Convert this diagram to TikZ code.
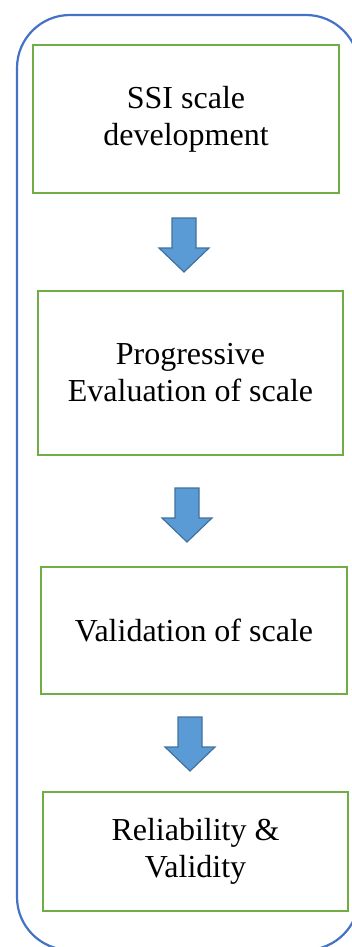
\documentclass[tikz,border=0pt]{standalone}
\usepackage{fontspec}
\setmainfont{Liberation Serif}
\newfontfamily\stagefont{Liberation Serif}
\definecolor{frameblue}{HTML}{4472C4}
\definecolor{boxgreen}{HTML}{70AD47}
\definecolor{arrowfill}{HTML}{5B9BD5}
\definecolor{arrowline}{HTML}{41719C}
\begin{document}
\begin{tikzpicture}[x=1pt,y=-1pt,
  stagebox/.style={draw=boxgreen, line width=2.5pt, fill=white, align=center,
    font=\stagefont\fontsize{32}{37}\selectfont, inner sep=0pt},
  blockarrow/.pic={
    \draw[arrowline, fill=arrowfill, line width=1.2pt, line join=miter]
      (-12,0) -- (12,0) -- (12,30) -- (25,30) -- (0,54) -- (-25,30) -- (-12,30) -- cycle;
  }]
  \useasboundingbox (0,0) rectangle (352,947);
  \begin{scope}
    \clip (0,0) rectangle (352,947);
    % outer rounded frame (runs past the right and bottom edges)
    \draw[frameblue, line width=2.2pt, rounded corners=53pt] (17,15) rectangle (359,950);
  \end{scope}

  % stages
  \node[stagebox, minimum width=306pt, minimum height=148pt] (s1) at (186,119)
    {SSI scale\\development};
  \node[stagebox, minimum width=305pt, minimum height=164pt] (s2) at (190.5,373)
    {Progressive\\Evaluation of scale};
  \node[stagebox, minimum width=306pt, minimum height=127pt] (s3) at (194,630.5)
    {Validation of scale};
  \node[stagebox, minimum width=305pt, minimum height=119pt] (s4) at (195.5,851.5)
    {Reliability \&\\Validity};

  % block arrows between stages
  \pic (a1) at (184,218) {blockarrow};
  \pic (a2) at (187,488) {blockarrow};
  \pic (a3) at (190,717) {blockarrow};
\end{tikzpicture}
\end{document}
